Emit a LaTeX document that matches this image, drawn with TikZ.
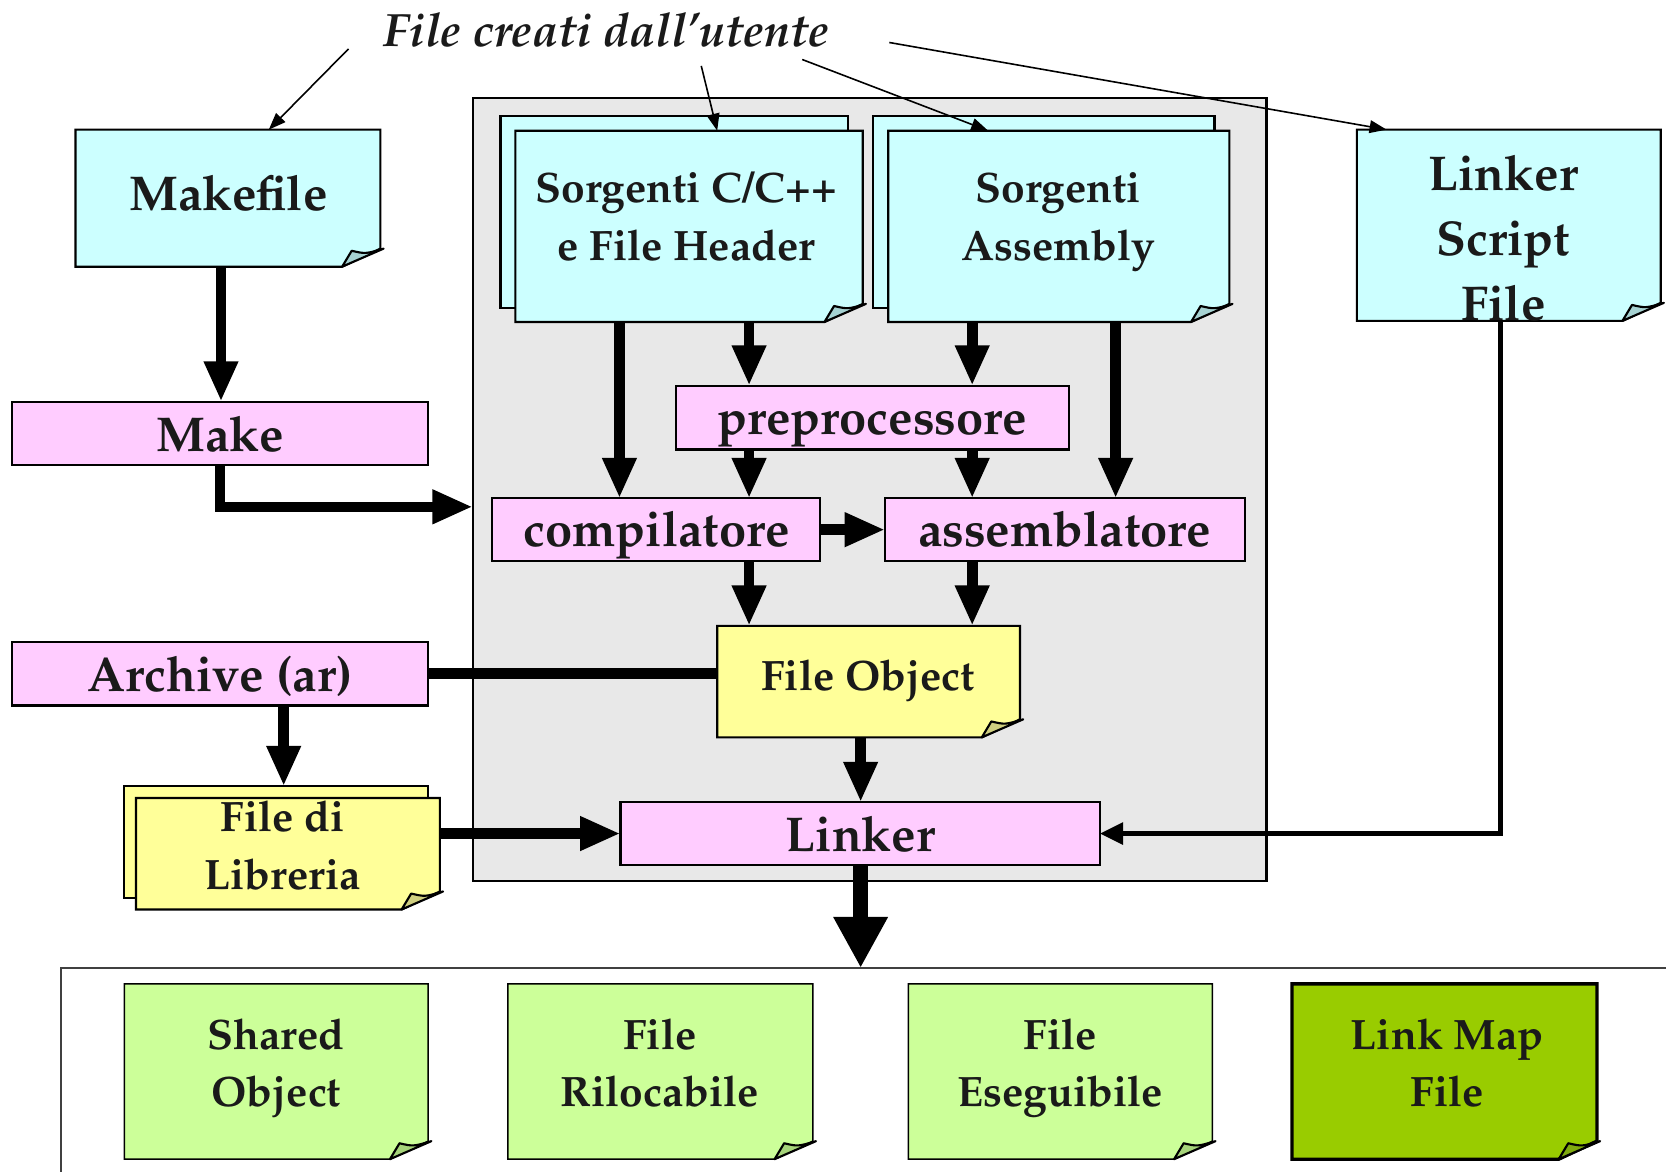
\documentclass[tikz,border=0pt]{standalone}
\usepackage[T1]{fontenc}
\renewcommand{\rmdefault}{ppl}
\usetikzlibrary{arrows.meta,calc,fit}
\definecolor{cyanF}{HTML}{CCFFFF}
\definecolor{cyanFlap}{HTML}{A6D2D2}
\definecolor{pinkF}{HTML}{FFCCFF}
\definecolor{yelF}{HTML}{FFFF99}
\definecolor{yelFlap}{HTML}{CFCF80}
\definecolor{grnF}{HTML}{CCFF99}
\definecolor{grnFlap}{HTML}{A6D47A}
\definecolor{dgrnF}{HTML}{99CC00}
\definecolor{dgrnFlap}{HTML}{7FAA10}
\definecolor{greyBG}{HTML}{E8E8E8}
\definecolor{inkT}{HTML}{1A1A1A}
\newcommand\docsheet[4][1pt]{%
  \filldraw[line width=#1,fill=#3] (#2.north west) -- (#2.north east) -- ($(#2.south east)+(0,-17)$) -- ($(#2.south east)+(-36,0)$) -- (#2.south west) -- cycle;
  \filldraw[line width=1pt,fill=#4,line join=round] ($(#2.south east)+(-36,0)$) -- ($(#2.south east)+(-27,-15)$) .. controls ($(#2.south east)+(-14,-12)$) .. ($(#2.south east)+(3,-17)$) -- cycle;
}
\tikzset{
  x=0.5pt, y=-0.5pt,
  box/.style={inner sep=0pt, outer sep=0pt},
  proc/.style={box, draw=black, line width=1pt, fill=pinkF},
  backsheet/.style={box, draw=black, line width=1pt},
  bigtxt/.style={font=\fontsize{23}{30.5}\selectfont\bfseries, align=center, inner sep=0pt, text=inkT},
  midtxt/.style={font=\fontsize{20}{27}\selectfont\bfseries, align=center, inner sep=0pt, text=inkT},
  fat/.style={line width=5pt, -{Triangle[width=15pt,length=19pt]}},
  fatline/.style={line width=5pt},
  medarrow/.style={line width=2.5pt, -{Triangle[width=10pt,length=11pt]}},
  bigarrow/.style={line width=7pt, -{Triangle[width=24pt,length=24pt]}},
  thinarrow/.style={line width=0.75pt, -{Triangle[width=6pt,length=8pt]}},
}
\begin{document}
\begin{tikzpicture}
\useasboundingbox (0,0) rectangle (1568,1103);

% grey container
\node[box, fit={(445,92)(1192,829)}, draw=black, line width=1pt, fill=greyBG] (grey) {};

% title
\node[font=\fontsize{22}{26}\selectfont\bfseries\itshape, anchor=base, inner sep=0pt, text=inkT] (title) at (571,44) {File creati dall'utente};

% user files
\node[box, fit={(71,122)(358,251)}] (makefile) {};
\docsheet{makefile}{cyanF}{cyanFlap}
\node[bigtxt] (makefileT) at (215,186) {\strut Makefile};

\node[backsheet, fit={(471,109)(798,290)}, fill=cyanF] (srcCback) {};
\node[box, fit={(485,123)(812,303)}] (srcC) {};
\docsheet{srcC}{cyanF}{cyanFlap}
\node[midtxt] (srcCT) at (646,207) {\strut Sorgenti C/C++\\\strut e File Header};

\node[backsheet, fit={(822,109)(1143,290)}, fill=cyanF] (srcAback) {};
\node[box, fit={(836,123)(1157,303)}] (srcA) {};
\docsheet{srcA}{cyanF}{cyanFlap}
\node[midtxt] (srcAT) at (996,207) {\strut Sorgenti\\\strut Assembly};

\node[box, fit={(1277,122)(1563,302)}] (lscript) {};
\docsheet{lscript}{cyanF}{cyanFlap}
\node[bigtxt] (lscriptT) at (1415,228) {\strut Linker\\\strut Script\\\strut File};

% processes
\node[proc, fit={(11,378)(403,438)}] (make) {};
\node[bigtxt] (makeT) at (207,413) {\strut Make};
\node[proc, fit={(636,363)(1006,423)}] (pre) {};
\node[bigtxt] (preT) at (821,397) {\strut preprocessore};
\node[proc, fit={(463,469)(772,528)}] (comp) {};
\node[bigtxt] (compT) at (618,502) {\strut compilatore};
\node[proc, fit={(833,469)(1172,528)}] (asm) {};
\node[bigtxt] (asmT) at (1002,502) {\strut assemblatore};
\node[proc, fit={(11,604)(403,664)}] (archive) {};
\node[bigtxt] (archiveT) at (207,639) {\strut Archive (ar)};
\node[proc, fit={(584,755)(1035,814)}] (linker) {};
\node[bigtxt] (linkerT) at (810,789) {\strut Linker};

% object / library files
\node[box, fit={(675,589)(960,694)}] (fobj) {};
\docsheet{fobj}{yelF}{yelFlap}
\node[midtxt] (fobjT) at (817,639) {\strut File Object};

\node[backsheet, fit={(117,740)(403,845)}, fill=yelF] (libback) {};
\node[box, fit={(128,751)(414,856)}] (lib) {};
\docsheet{lib}{yelF}{yelFlap}
\node[midtxt] (libT) at (266,799) {\strut File di\\\strut Libreria};

% output area
\node[box, fit={(57,911)(1568,1103)}] (outbox) {};
\draw[line width=1pt, draw=black!75] (outbox.south west) -- (outbox.north west) -- (outbox.north east);

\node[box, fit={(117,926)(403,1091)}] (shared) {};
\docsheet[0.7pt]{shared}{grnF}{grnFlap}
\node[midtxt] (sharedT) at (260,1004) {\strut Shared\\\strut Object};
\node[box, fit={(478,926)(765,1091)}] (reloc) {};
\docsheet[0.7pt]{reloc}{grnF}{grnFlap}
\node[midtxt] (relocT) at (621,1004) {\strut File\\\strut Rilocabile};
\node[box, fit={(855,926)(1141,1091)}] (exec) {};
\docsheet[0.7pt]{exec}{grnF}{grnFlap}
\node[midtxt] (execT) at (998,1004) {\strut File\\\strut Eseguibile};
\node[box, fit={(1216,926)(1503,1091)}] (lmap) {};
\docsheet[1.6pt]{lmap}{dgrnF}{dgrnFlap}
\node[midtxt] (lmapT) at (1362,1004) {\strut Link Map\\\strut File};

% x positions for vertical connectors
\coordinate (xA) at (583,0);
\coordinate (xB) at (705,0);
\coordinate (xC) at (915,0);
\coordinate (xD) at (1050,0);
\coordinate (xM) at (208,0);
\coordinate (xL) at (267,0);
\coordinate (xK) at (810,0);
\coordinate (xS) at (1412,0);
\coordinate (yMk) at (0,477);

% thick connectors
\draw[fat] (xM |- makefile.south) -- (xM |- make.north);
\draw[fat] (make.south) |- (grey.west |- yMk);
\draw[fat] (xA |- srcC.south) -- (xA |- comp.north);
\draw[fat] (xB |- srcC.south) -- (xB |- pre.north);
\draw[fat] (xB |- pre.south) -- (xB |- comp.north);
\draw[fat] (xC |- srcA.south) -- (xC |- pre.north);
\draw[fat] (xC |- pre.south) -- (xC |- asm.north);
\draw[fat] (xD |- srcA.south) -- (xD |- asm.north);
\draw[fat] (comp.east) -- (asm.west);
\draw[fat] (xB |- comp.south) -- (xB |- fobj.north);
\draw[fat] (xC |- asm.south) -- (xC |- fobj.north);
\draw[fatline] (archive.east) -- (archive.east -| fobj.west);
\draw[fat] (xL |- archive.south) -- (xL |- libback.north);
\draw[fat] (xK |- fobj.south) -- (xK |- linker.north);
\draw[fat] (lib.east |- linker.west) -- (linker.west);
\draw[medarrow] (xS |- lscript.south) |- (linker.east);
\draw[bigarrow] (xK |- linker.south) -- (xK |- outbox.north);

% thin arrows from the title
\coordinate (t1) at (328,46);
\coordinate (t2) at (660,62);
\coordinate (t3) at (755,56);
\coordinate (t4) at (837,40);
\coordinate (xt1) at (253,0);
\coordinate (xt2) at (675,0);
\coordinate (xt3) at (930,0);
\coordinate (xt4) at (1305,0);
\draw[thinarrow] (t1) -- (xt1 |- makefile.north);
\draw[thinarrow] (t2) -- (xt2 |- srcC.north);
\draw[thinarrow] (t3) -- (xt3 |- srcA.north);
\draw[thinarrow] (t4) -- (xt4 |- lscript.north);
\end{tikzpicture}
\end{document}
